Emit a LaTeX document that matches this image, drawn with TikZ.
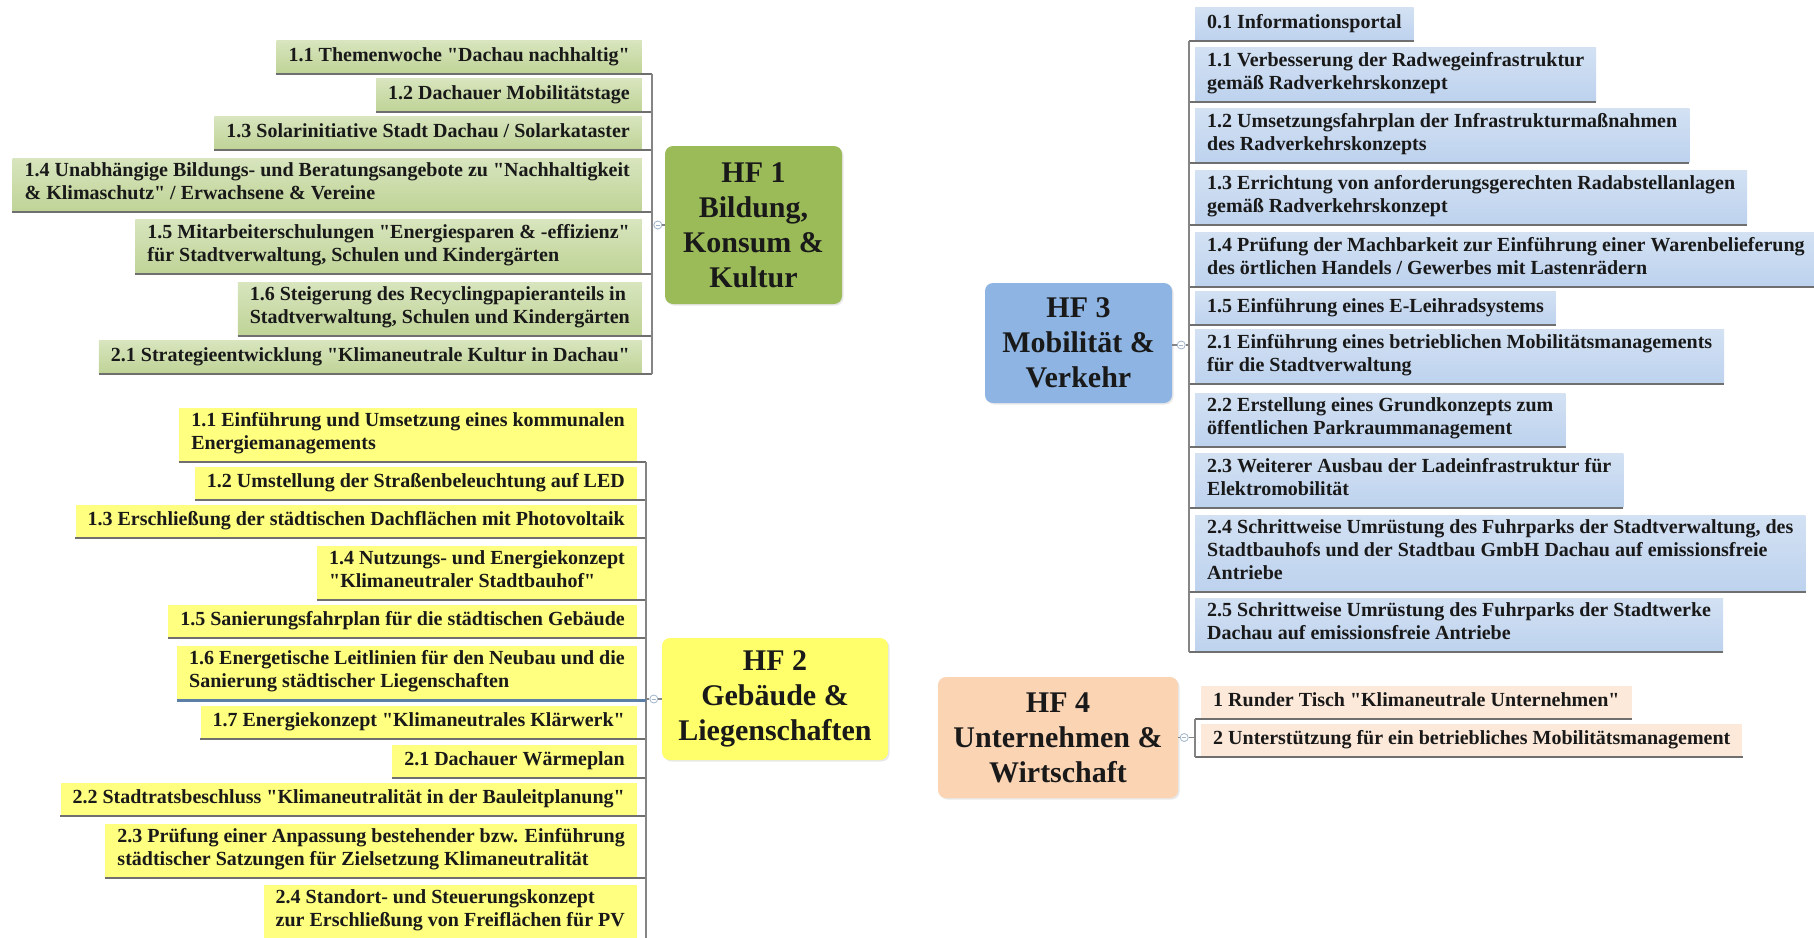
\documentclass[tikz,border=0pt]{standalone}
\usepackage{fontspec}
\setmainfont{Liberation Serif}[Ligatures=TeXOff]
\usetikzlibrary{calc,shadows}
\definecolor{g1}{HTML}{9BBB59}
\definecolor{g1t}{HTML}{D8E5BE}
\definecolor{g1b}{HTML}{BFD396}
\definecolor{y2}{HTML}{FFFF6B}
\definecolor{y2i}{HTML}{FFFF80}
\definecolor{b3}{HTML}{8DB4E2}
\definecolor{b3t}{HTML}{D3E1F3}
\definecolor{b3b}{HTML}{BDD2EE}
\definecolor{o4}{HTML}{FBD4B4}
\definecolor{o4i}{HTML}{FDE9D9}
\definecolor{lin}{HTML}{6F6F6F}
\definecolor{knobc}{HTML}{9FB4CC}
\definecolor{selc}{HTML}{5B7FA6}
\begin{document}
\begin{tikzpicture}[x=1pt,y=-1pt,
  itemtxt/.style={inner xsep=12pt, inner ysep=5pt, align=left,
    font=\bfseries\fontsize{20}{23}\selectfont, text=black!90,
    execute at begin node=\strut, execute at end node=\strut},
  i1/.style={itemtxt, top color=g1t, bottom color=g1b, anchor=south east},
  i2/.style={itemtxt, fill=y2i, anchor=south east},
  i3/.style={itemtxt, top color=b3t, bottom color=b3b, anchor=south west},
  i4/.style={itemtxt, fill=o4i, anchor=south west},
  hf/.style={rounded corners=8pt, align=center, inner sep=0pt,
    font=\bfseries\fontsize{30}{35}\selectfont, text=black!90,
    drop shadow={shadow xshift=1.5pt, shadow yshift=-1.5pt, opacity=0.18}},
  uline/.style={draw=lin, line width=2pt},
  spine/.style={draw=lin!85, line width=1.3pt},
  knob/.style={circle, draw=knobc, fill=white, minimum size=8pt, inner sep=0pt, line width=0.8pt,
    path picture={\draw[knobc, line width=0.7pt] ($(path picture bounding box.center)+(-2,0)$) -- ($(path picture bounding box.center)+(2,0)$);}}
]
\fill[white] (0,0) rectangle (1814,937);
\useasboundingbox (0,0) rectangle (1814,937);

% ---------------- HF 1 ----------------
\node[hf, fill=g1, minimum width=177pt, minimum height=158pt] (hf1) at (753.5,225)
  {HF 1\\Bildung,\\Konsum \&\\Kultur};
\coordinate (sp1) at (652,0);
\node[i1] (h1a) at (642,74) {1.1 Themenwoche "Dachau nachhaltig"};
\node[i1] (h1b) at (642,112) {1.2 Dachauer Mobilitätstage};
\node[i1] (h1c) at (642,150) {1.3 Solarinitiative Stadt Dachau / Solarkataster};
\node[i1] (h1d) at (642,212) {1.4 Unabhängige Bildungs- und Beratungsangebote zu "Nachhaltigkeit\\\& Klimaschutz" / Erwachsene \& Vereine};
\node[i1] (h1e) at (642,274) {1.5 Mitarbeiterschulungen "Energiesparen \& -effizienz"\\für Stadtverwaltung, Schulen und Kindergärten};
\node[i1] (h1f) at (642,336) {1.6 Steigerung des Recyclingpapieranteils in\\Stadtverwaltung, Schulen und Kindergärten};
\node[i1] (h1g) at (642,374) {2.1 Strategieentwicklung "Klimaneutrale Kultur in Dachau"};
\foreach \n in {h1a,h1b,h1c,h1d,h1e,h1f,h1g}
  \draw[uline] (\n.south west) -- (\n.south -| sp1);
\draw[spine] (h1a.south -| sp1) -- (h1g.south -| sp1);
\node[knob] (k1) at ($(hf1.west)+(-7,0)$) {};
\draw[spine] (hf1.west) -- (k1.east) (k1.west) -- (k1 -| sp1);

% ---------------- HF 2 ----------------
\node[hf, fill=y2, minimum width=226pt, minimum height=122pt] (hf2) at (775,699)
  {HF 2\\Gebäude \&\\Liegenschaften};
\coordinate (sp2) at (646,0);
\node[i2] (h2a) at (637,462) {1.1 Einführung und Umsetzung eines kommunalen\\Energiemanagements};
\node[i2] (h2b) at (637,500) {1.2 Umstellung der Straßenbeleuchtung auf LED};
\node[i2] (h2c) at (637,538) {1.3 Erschließung der städtischen Dachflächen mit Photovoltaik};
\node[i2] (h2d) at (637,600) {1.4 Nutzungs- und Energiekonzept\\"Klimaneutraler Stadtbauhof"};
\node[i2] (h2e) at (637,638) {1.5 Sanierungsfahrplan für die städtischen Gebäude};
\node[i2] (h2f) at (637,700) {1.6 Energetische Leitlinien für den Neubau und die\\Sanierung städtischer Liegenschaften};
\node[i2] (h2g) at (637,739) {1.7 Energiekonzept "Klimaneutrales Klärwerk"};
\node[i2] (h2h) at (637,778) {2.1 Dachauer Wärmeplan};
\node[i2] (h2i) at (637,816) {2.2 Stadtratsbeschluss "Klimaneutralität in der Bauleitplanung"};
\node[i2] (h2j) at (637,878) {2.3 Prüfung einer Anpassung bestehender bzw. Einführung\\städtischer Satzungen für Zielsetzung Klimaneutralität};
\node[i2] (h2k) at (637,939) {2.4 Standort- und Steuerungskonzept\\zur Erschließung von Freiflächen für PV};
\foreach \n in {h2a,h2b,h2c,h2d,h2e,h2g,h2h,h2i,h2j,h2k}
  \draw[uline] (\n.south west) -- (\n.south -| sp2);
\draw[spine] (h2a.south -| sp2) -- (h2k.south -| sp2);
\draw[draw=selc, line width=3pt] (h2f.south west) -- (h2f.south -| sp2);
\node[knob] (k2) at ($(hf2.west)+(-8,0)$) {};
\draw[spine] (hf2.west) -- (k2.east) (k2.west) -- (k2 -| sp2);

% ---------------- HF 3 ----------------
\node[hf, fill=b3, minimum width=187pt, minimum height=120pt] (hf3) at (1078.5,343)
  {HF 3\\Mobilität \&\\Verkehr};
\coordinate (sp3) at (1189,0);
\node[i3] (h3a) at (1195,41) {0.1 Informationsportal};
\node[i3] (h3b) at (1195,102) {1.1 Verbesserung der Radwegeinfrastruktur\\gemäß Radverkehrskonzept};
\node[i3] (h3c) at (1195,163) {1.2 Umsetzungsfahrplan der Infrastrukturmaßnahmen\\des Radverkehrskonzepts};
\node[i3] (h3d) at (1195,225) {1.3 Errichtung von anforderungsgerechten Radabstellanlagen\\gemäß Radverkehrskonzept};
\node[i3] (h3e) at (1195,287) {1.4 Prüfung der Machbarkeit zur Einführung einer Warenbelieferung\\des örtlichen Handels / Gewerbes mit Lastenrädern};
\node[i3] (h3f) at (1195,325) {1.5 Einführung eines E-Leihradsystems};
\node[i3] (h3g) at (1195,384) {2.1 Einführung eines betrieblichen Mobilitätsmanagements\\für die Stadtverwaltung};
\node[i3] (h3h) at (1195,447) {2.2 Erstellung eines Grundkonzepts zum\\öffentlichen Parkraummanagement};
\node[i3] (h3i) at (1195,508) {2.3 Weiterer Ausbau der Ladeinfrastruktur für\\Elektromobilität};
\node[i3] (h3j) at (1195,592) {2.4 Schrittweise Umrüstung des Fuhrparks der Stadtverwaltung, des\\Stadtbauhofs und der Stadtbau GmbH Dachau auf emissionsfreie\\Antriebe};
\node[i3] (h3k) at (1195,652) {2.5 Schrittweise Umrüstung des Fuhrparks der Stadtwerke\\Dachau auf emissionsfreie Antriebe};
\foreach \n in {h3a,h3b,h3c,h3d,h3e,h3f,h3g,h3h,h3i,h3j,h3k}
  \draw[uline] (\n.south -| sp3) -- (\n.south east);
\draw[spine] (h3a.south -| sp3) -- (h3k.south -| sp3);
\node[knob] (k3) at ($(hf3.east)+(9,2)$) {};
\draw[spine] (hf3.east |- k3) -- (k3.west) (k3.east) -- (k3 -| sp3);

% ---------------- HF 4 ----------------
\node[hf, fill=o4, minimum width=240pt, minimum height=121pt] (hf4) at (1058,737.5)
  {HF 4\\Unternehmen \&\\Wirtschaft};
\coordinate (sp4) at (1195,0);
\node[i4] (h4a) at (1201,719) {1 Runder Tisch "Klimaneutrale Unternehmen"};
\node[i4] (h4b) at (1201,757) {2 Unterstützung für ein betriebliches Mobilitätsmanagement};
\foreach \n in {h4a,h4b}
  \draw[uline] (\n.south -| sp4) -- (\n.south east);
\draw[spine] (h4a.south -| sp4) -- (h4b.south -| sp4);
\node[knob] (k4) at ($(hf4.east)+(6,0)$) {};
\draw[spine] (hf4.east) -- (k4.west) (k4.east) -- (k4 -| sp4);
\end{tikzpicture}
\end{document}
